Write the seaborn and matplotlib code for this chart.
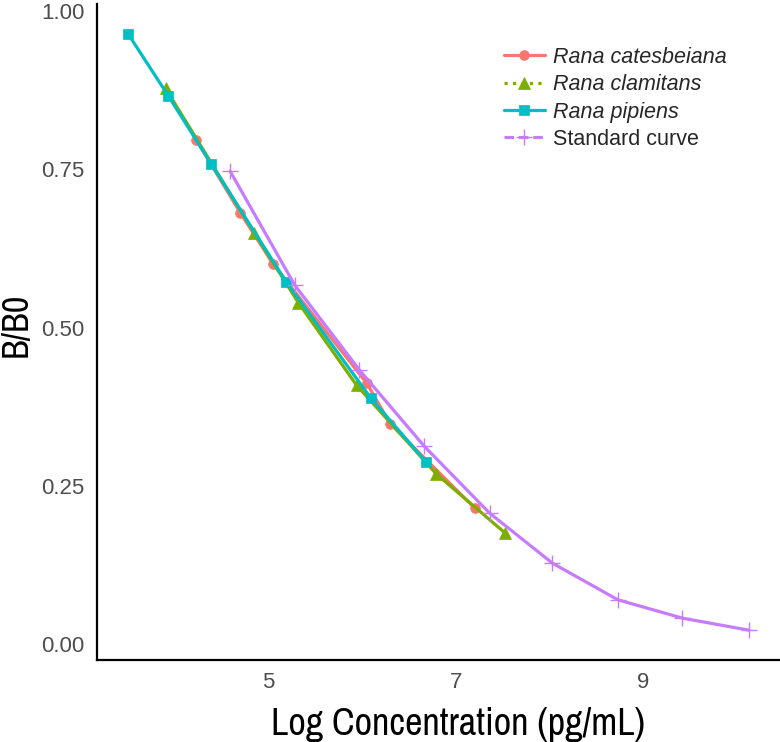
import os
import pandas as pd
import matplotlib
matplotlib.use("Agg")
import matplotlib.pyplot as plt
from matplotlib import font_manager
from matplotlib.font_manager import FontProperties
from matplotlib.lines import Line2D
import seaborn as sns

# log concentration (x) and B/B0 (y)
cates_x = [4.23, 4.70, 5.05, 6.05, 6.30, 7.20]
cates_y = [0.796, 0.681, 0.600, 0.412, 0.348, 0.215]
clam_x = [3.90, 4.85, 5.32, 5.94, 6.79, 7.53]
clam_y = [0.878, 0.649, 0.539, 0.409, 0.269, 0.175]
pip_x = [3.50, 3.93, 4.39, 5.19, 6.09, 6.68]
pip_y = [0.964, 0.866, 0.758, 0.572, 0.389, 0.288]
std_x = [4.59, 5.28, 5.97, 6.66, 7.36, 8.03, 8.73, 9.42, 10.13]
std_y = [0.747, 0.567, 0.433, 0.313, 0.207, 0.128, 0.070, 0.041, 0.022]

series_names = ["Rana catesbeiana", "Rana clamitans", "Rana pipiens", "Standard curve"]
x_ticks = [5, 7, 9]
y_ticks = [0.00, 0.25, 0.50, 0.75, 1.00]

colors = ["#F8766D", "#7CAE00", "#00BFC4", "#C77CFF"]
markers = ["o", "^", "s", "+"]
marker_sizes = [7, 8, 7, 11]
legend_styles = ["-", ":", "-", (0, (3, 1.5))]

frames = []
for name, xs, ys in zip(series_names, [cates_x, clam_x, pip_x, std_x], [cates_y, clam_y, pip_y, std_y]):
    frames.append(pd.DataFrame({"x": xs, "y": ys, "series": name}))
df = pd.concat(frames, ignore_index=True)

sns.set_style("white")
plt.rcParams["font.family"] = ["Liberation Sans", "DejaVu Sans"]

# axis titles in the reference use a condensed face; find one if installed
narrow_path = None
for key in ["narrow", "condensed"]:
    for f in font_manager.fontManager.ttflist:
        fn = os.path.basename(f.fname).lower()
        if key in fn and not any(k in fn for k in ["bold", "italic", "oblique", "light", "semi", "extra", "thin", "medium", "black"]):
            narrow_path = f.fname
            break
    if narrow_path:
        break
if narrow_path:
    xlab_fp = FontProperties(fname=narrow_path, size=27.5)
    ylab_fp = FontProperties(fname=narrow_path, size=26)
else:
    xlab_fp = FontProperties(family="Liberation Sans", size=23)
    ylab_fp = FontProperties(family="Liberation Sans", size=23)

fig = plt.figure(figsize=(7.8, 7.42), dpi=100)
ax = fig.add_axes([97 / 780, (742 - 660) / 742, (780 - 97) / 780, (660 - 4) / 742])

for name, c, m, ms in zip(series_names, colors, markers, marker_sizes):
    sub = df[df["series"] == name]
    sns.lineplot(data=sub, x="x", y="y", color=c, marker=m, markersize=ms,
                 markeredgecolor=c, markeredgewidth=1.0 if m == "+" else 0.5,
                 sort=False, linewidth=2.3, ax=ax)

# ggplot-like 5% expansion
xr = df["x"].max() - df["x"].min()
yr = df["y"].max() - df["y"].min()
ax.set_xlim(df["x"].min() - 0.05 * xr, df["x"].max() + 0.05 * xr)
ax.set_ylim(df["y"].min() - 0.05 * yr, df["y"].max() + 0.05 * yr)

ax.set_xticks(x_ticks)
ax.set_xticklabels([str(t) for t in x_ticks])
ax.set_yticks(y_ticks)
ax.set_yticklabels([f"{t:.2f}" for t in y_ticks])
ax.tick_params(axis="both", length=4, width=1, color="#333333",
               labelcolor="#4D4D4D", labelsize=16, pad=5, direction="out")

for side in ["top", "right"]:
    ax.spines[side].set_visible(False)
for side in ["left", "bottom"]:
    ax.spines[side].set_color("black")
    ax.spines[side].set_linewidth(1.6)

ax.set_xlabel("Log Concentration (pg/mL)", fontproperties=xlab_fp, color="black", va="baseline")
ax.xaxis.set_label_coords((458 - 97) / 683, (660 - 735) / 656)
ax.set_ylabel("B/B0", fontproperties=ylab_fp, color="black", va="center")
ax.yaxis.set_label_coords((16 - 97) / 683, (660 - 325) / 656)

handles = [Line2D([], [], color=c, marker=m, linestyle=ls, linewidth=2.3,
                  markersize=ms, markeredgecolor=c, markeredgewidth=1.0 if m == "+" else 0.5)
           for c, m, ls, ms in zip(colors, markers, legend_styles, marker_sizes)]
leg = ax.legend(handles, series_names, loc="upper left",
                bbox_to_anchor=(495 / 780, 1 - 38 / 742), bbox_transform=fig.transFigure,
                frameon=False, fontsize=15.5, handlelength=1.9, handletextpad=0.4,
                labelspacing=0.3, borderaxespad=0)
for txt in leg.get_texts()[:3]:
    txt.set_fontstyle("italic")

fig.savefig("out.png", dpi=100)
